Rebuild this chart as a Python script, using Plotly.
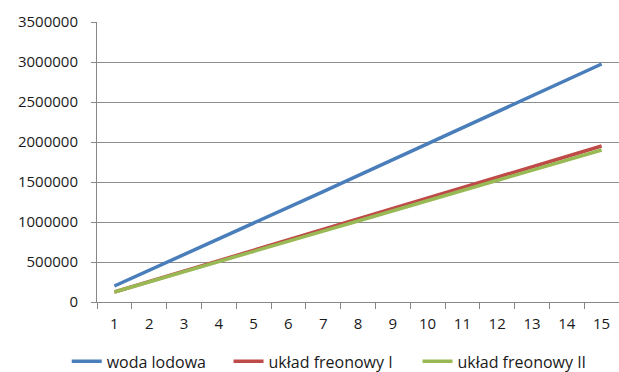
import plotly.graph_objects as go

categories = [str(i) for i in range(1, 16)]
woda_lodowa = [200000, 395000, 595000, 790000, 985000, 1185000, 1380000, 1580000,
               1780000, 1975000, 2175000, 2375000, 2575000, 2780000, 2975000]
freon_1 = [125000, 255000, 385000, 515000, 645000, 775000, 905000, 1035000,
           1165000, 1295000, 1425000, 1555000, 1690000, 1820000, 1950000]
freon_2 = [125000, 250000, 378000, 505000, 632000, 760000, 886000, 1013000,
           1140000, 1268000, 1394000, 1520000, 1648000, 1775000, 1900000]

series = [
    ("woda lodowa", woda_lodowa, "#4A7EBB", "legend", -0.058),
    ("układ freonowy I", freon_1, "#BE4B48", "legend2", 0.252),
    ("układ freonowy II", freon_2, "#98B954", "legend3", 0.614),
]

font = dict(family="Open Sans, Lato, sans-serif", size=15, color="#1a1a1a")
legend_font = dict(family="Open Sans, Lato, sans-serif", size=16, color="#1a1a1a")

fig = go.Figure()
legends = {}
for name, vals, color, leg, lx in series:
    fig.add_trace(go.Scatter(
        x=categories, y=vals, name=name, mode="lines",
        line=dict(color=color, width=3.5), legend=leg,
    ))
    legends[leg] = dict(orientation="h", x=lx, xanchor="left", y=-0.212,
                        yanchor="middle", font=legend_font, itemwidth=30,
                        bgcolor="rgba(0,0,0,0)")

fig.update_layout(
    width=619, height=372,
    margin=dict(l=97, r=0, t=22, b=70, autoexpand=False),
    paper_bgcolor="white", plot_bgcolor="white",
    font=font,
    showlegend=True,
    **legends,
    xaxis=dict(
        type="category", showgrid=False, showline=True, linecolor="#878787",
        linewidth=1, ticks="outside", ticklen=6, tickcolor="#878787",
        tickson="boundaries", ticklabelstandoff=8, range=[-0.5, 14.5],
    ),
    yaxis=dict(
        range=[0, 3500000], dtick=500000, showgrid=True, gridcolor="#8C8C8C",
        gridwidth=1, showline=True, linecolor="#878787", linewidth=1,
        ticks="outside", ticklen=5, tickcolor="#878787", tickformat="d",
        ticklabelstandoff=10, zeroline=False,
    ),
)

fig.write_html("out.html")
